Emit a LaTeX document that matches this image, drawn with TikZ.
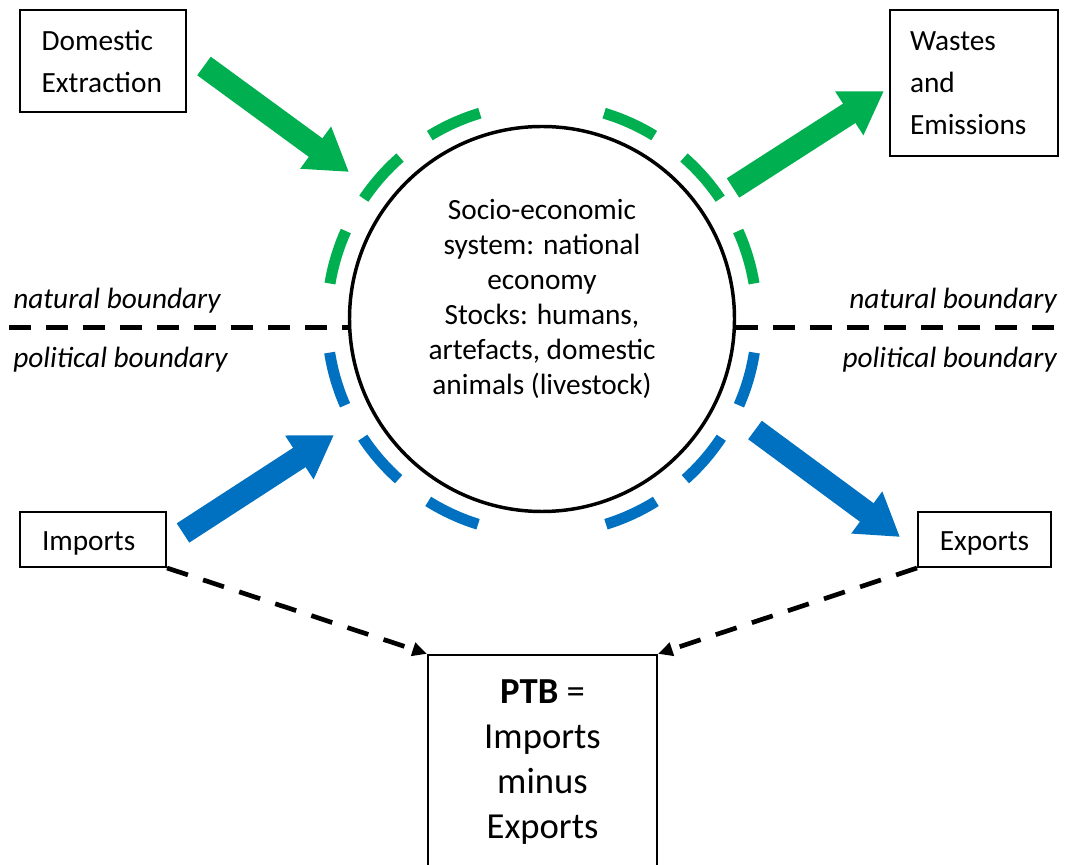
\documentclass[tikz,border=0pt]{standalone}
\usepackage{fontspec}
\setmainfont{Carlito}
\definecolor{flowgreen}{HTML}{00B050}
\definecolor{flowblue}{HTML}{0070C0}
\usetikzlibrary{arrows.meta, positioning, calc}

\begin{document}
\begin{tikzpicture}[x=0.75pt, y=0.75pt,
      flowbox/.style={draw, line width=1.5pt, inner xsep=16.5pt, inner ysep=0pt,
                      font=\fontsize{22}{31.5}\selectfont, align=left},
      core/.style={draw, circle, line width=2.6pt, minimum size=288.75pt},
      coretext/.style={font=\fontsize{22}{26.25}\selectfont, align=center},
      ptbbox/.style={draw, line width=1.5pt, minimum width=171.75pt, minimum height=172pt},
      ptbtext/.style={font=\fontsize{27.5}{33.75}\selectfont, align=center},
      ring/.style={line width=8.25pt, dash pattern=on 41.25pt off 27.75pt},
      bigarr/.style={line width=17.25pt, -{Triangle[length=31pt, width=37pt]}},
      dasharr/.style={line width=3.5pt, dash pattern=on 16.5pt off 12pt,
                      -{Triangle[length=11pt, width=10pt]}},
      boundary/.style={line width=3.75pt, dash pattern=on 16.5pt off 11.25pt},
      blabel/.style={font=\fontsize{22}{26}\selectfont\itshape, inner sep=0pt}
    ]
      \useasboundingbox (0,0) rectangle (1071,864);

      % boxes
      \node[flowbox, text width=92pt, minimum height=76.5pt] (dext) at (103,803)
        {Domestic\\Extraction};
      \node[flowbox, inner xsep=15pt, text width=96pt, minimum height=109.5pt] (waste) at (974,781)
        {Wastes\\and\\Emissions};
      \node[flowbox, text width=76.5pt, text height=20pt, text depth=4pt,
            minimum height=41.25pt] (imp) at (93,324.5) {Imports};
      \node[flowbox, align=center, inner xsep=0pt, minimum width=99.75pt,
            text height=20pt, text depth=4pt, minimum height=41.25pt] (exp) at (984.5,324.5) {Exports};
      \node[ptbbox] (ptb) at (542.5,94.5) {};
      \node[ptbtext] (ptbtxt) at (542.5,101.5) {\textbf{PTB} =\\Imports\\minus\\Exports};

      % socio-economic system
      \node[core] (ses) at (542,545) {};
      \node[coretext] (sestxt) at (542,565)
        {Socio-economic\\system: national\\economy\\Stocks: humans,\\artefacts, domestic\\animals (livestock)};
      \foreach \a/\b/\c in {170.5/106.8/flowgreen, 9.5/73.2/flowgreen,
                            189/252.7/flowblue, 351/287.3/flowblue}
        \draw[ring, \c] ([shift={(\a:215)}]ses.center) arc[start angle=\a, end angle=\b, radius=215];

      % boundaries
      \coordinate (lend) at (9,536);
      \coordinate (rend) at (1058,536);
      \draw[boundary] (lend) -- (lend -| ses.west);
      \draw[boundary] (rend -| ses.east) -- (rend);
      \node[blabel, anchor=base west] (natl) at (13,555) {natural boundary};
      \node[blabel, anchor=base west] (poll) at (13,496) {political boundary};
      \node[blabel, anchor=base east] (natr) at (1057,555) {natural boundary};
      \node[blabel, anchor=base east] (polr) at (1057,496) {political boundary};

      % material flows
      \coordinate (dextout) at (204,798);
      \coordinate (dextin) at (349,692);
      \coordinate (wasteout) at (733,676);
      \coordinate (wastein) at (884,773);
      \coordinate (impout) at (183,331);
      \coordinate (impin) at (334,429);
      \coordinate (expout) at (755,434);
      \coordinate (expin) at (900,327);
      \draw[bigarr, flowgreen] (dextout) -- (dextin);
      \draw[bigarr, flowgreen] (wasteout) -- (wastein);
      \draw[bigarr, flowblue] (impout) -- (impin);
      \draw[bigarr, flowblue] (expout) -- (expin);

      \draw[dasharr] (imp.south east) -- (ptb.north west);
      \draw[dasharr] (exp.south west) -- (ptb.north east);
    \end{tikzpicture}
\end{document}
